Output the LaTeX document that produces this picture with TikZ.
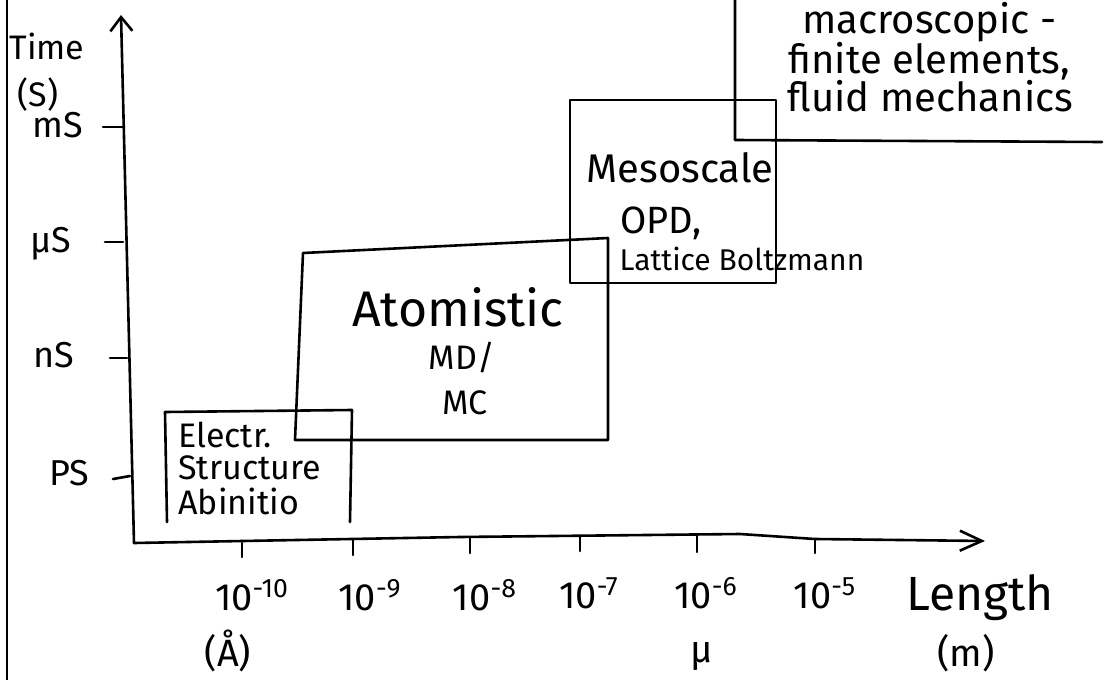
\documentclass[tikz,border=0pt]{standalone}
\usepackage{fontspec}
\setmainfont{Fira Sans}
\usetikzlibrary{arrows.meta}
\begin{document}
\begin{tikzpicture}[x=0.5pt,y=-0.5pt,
  pen/.style={line width=1.3pt,line cap=round,line join=round},
  txt/.style={inner sep=0pt,anchor=base},
  txtw/.style={inner sep=0pt,anchor=base west},
  ax/.style={txt,font=\fontsize{18}{20}\selectfont},
  tk/.style={txt,font=\fontsize{19}{21}\selectfont},
  big/.style={txt,font=\fontsize{24}{26}\selectfont},
  mid/.style={txt,font=\fontsize{17}{19}\selectfont},
  small/.style={txtw,font=\fontsize{17}{18}\selectfont},
  macro/.style={txtw,font=\fontsize{20}{22}\selectfont}]
\useasboundingbox (0,0) rectangle (1120,680);
% left border
\draw[pen] (7,0) -- (7,680);
% axes
\coordinate (origin) at (134,543);
\coordinate (ytip) at (121,15);
\coordinate (xtip) at (985,541);
\draw[pen,-{Straight Barb[length=7pt,width=11pt]}] (origin) -- (ytip);
\draw[pen,-{Straight Barb[length=11pt,width=10pt]}] (origin) -- (460,537) -- (740,534) -- (815,539) -- (xtip);
% y ticks
\draw[pen] (103,127) -- (124,127);
\draw[pen] (105,242) -- (123,242);
\draw[pen] (110,358) -- (127,358);
\draw[pen] (113,479) -- (130,476);
% x ticks
\draw[pen] (242,543) -- (242,557);
\draw[pen] (353,540) -- (353,555);
\draw[pen] (470,537) -- (470,553);
\draw[pen] (580,536) -- (580,551);
\draw[pen] (697,535) -- (697,552);
\draw[pen] (815,539) -- (815,553);
% y labels
\node[ax,font=\fontsize{17}{19}\selectfont] (time) at (47,60) {Time};
\node[ax,font=\fontsize{17}{19}\selectfont] (sec) at (38,106) {(S)};
\node[ax] (ms) at (58,137) {mS};
\node[ax] (us) at (51,252) {μS};
\node[ax] (ns) at (54,367) {nS};
\node[ax] (ps) at (69,485) {PS};
% x labels
\node[tk] (e10) at (252,610) {10\textsuperscript{-10}};
\node[tk] (e9) at (370,610) {10\textsuperscript{-9}};
\node[tk] (e8) at (485,610) {10\textsuperscript{-8}};
\node[tk] (e7) at (589,608) {10\textsuperscript{-7}};
\node[tk] (e6) at (706,608) {10\textsuperscript{-6}};
\node[tk] (e5) at (825,608) {10\textsuperscript{-5}};
\node[big] (len) at (980,610) {Length};
\node[tk] (ang) at (228,666) {(Å)};
\node[tk] (mu) at (702,662) {μ};
\node[tk] (m) at (966,666) {(m)};
% Electronic structure box (open at bottom)
\draw[pen] (167,522) -- (165,412) -- (352,410) -- (350,522);
\node[small] (elec1) at (178,447) {Electr.};
\node[small] (elec2) at (178,479) {Structure};
\node[small] (elec3) at (178,514) {Abinitio};
% Atomistic box
\draw[pen] (303,253) -- (608,238) -- (608,440) -- (295,440) -- cycle;
\node[big,font=\fontsize{25}{27}\selectfont,text depth=0pt] (atom) at (458,326) {Atomistic};
\node[mid,text depth=0pt] (md) at (462,369) {MD/};
\node[mid] (mc) at (465,414) {MC};
% Mesoscale box
\draw[pen] (570,100) rectangle (776,283);
\node[txt,font=\fontsize{20}{22}\selectfont] (meso) at (680,182) {Mesoscale};
\node[txt,font=\fontsize{19}{21}\selectfont] (opd) at (661,233) {OPD,};
\node[txt,font=\fontsize{15}{17}\selectfont] (lb) at (742,270) {Lattice Boltzmann};
% Macroscopic region
\draw[pen] (735,0) -- (735,140) -- (1102,142);
\node[macro] (mac1) at (802,33) {macroscopic -};
\node[macro] (mac2) at (788,73) {finite elements,};
\node[macro] (mac3) at (787,112) {fluid mechanics};
\end{tikzpicture}
\end{document}
